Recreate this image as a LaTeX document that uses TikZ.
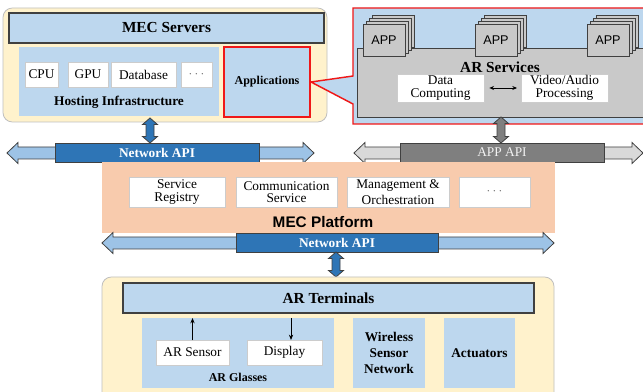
\documentclass[tikz,border=0pt]{standalone}
\usepackage{fontspec}
\setmainfont{Liberation Serif}
\newfontfamily\arialf{Liberation Sans}
\usetikzlibrary{arrows.meta,fit}
\definecolor{lyellow}{HTML}{FFF2CC}
\definecolor{lblue}{HTML}{BDD7EE}
\definecolor{mblue}{HTML}{9DC3E6}
\definecolor{dblue}{HTML}{2E75B6}
\definecolor{peach}{HTML}{F8CBAD}
\definecolor{sgray}{HTML}{C9C9C9}
\definecolor{dgray}{HTML}{7F7F7F}
\definecolor{lgray}{HTML}{D9D9D9}
\definecolor{bord}{HTML}{404040}
\definecolor{redb}{HTML}{F01818}
\newcommand{\hdbl}[4]{\filldraw[#4] ({#1},{#3}) -- ({#1+11},{#3-10.5}) -- ({#1+11},{#3-6}) -- ({#2-11},{#3-6}) -- ({#2-11},{#3-10.5}) -- ({#2},{#3}) -- ({#2-11},{#3+10.5}) -- ({#2-11},{#3+6}) -- ({#1+11},{#3+6}) -- ({#1+11},{#3+10.5}) -- cycle;}
\newcommand{\vdbl}[4]{\filldraw[#4] ({#1},{#2}) -- ({#1+7.5},{#2+6.5}) -- ({#1+4},{#2+6.5}) -- ({#1+4},{#3-6.5}) -- ({#1+7.5},{#3-6.5}) -- ({#1},{#3}) -- ({#1-7.5},{#3-6.5}) -- ({#1-4},{#3-6.5}) -- ({#1-4},{#2+6.5}) -- ({#1-7.5},{#2+6.5}) -- cycle;}
% \areabox{style}{name}{corner1}{corner2}{text style}{text}
\newcommand{\areabox}[6]{%
  \node[area, #1, fit={#3 #4}] (#2) {};
  \node[lbl, #5] (#2-t) at (#2.center) {#6};}
\tikzset{
  area/.style={inner sep=0pt, outer sep=0pt},
  ybox/.style={fill=lyellow, draw=black!25, line width=0.6pt, rounded corners=7pt},
  hdr/.style={fill=lblue, draw=bord, line width=0.8pt},
  hdrt/.style={font=\fontsize{11.5}{12}\selectfont\bfseries},
  bbox/.style={fill=lblue, draw=none},
  wbox/.style={fill=white, draw=black!20, line width=0.5pt},
  wt/.style={font=\fontsize{10}{10}\selectfont},
  redline/.style={draw=redb, line width=1.1pt},
  bar/.style={draw=bord, line width=0.7pt},
  bart/.style={text=white, font=\fontsize{10}{10}\selectfont\bfseries},
  appcard/.style={fill=sgray, draw=bord, line width=0.6pt},
  lbl/.style={inner sep=0pt, align=center},
  thinarr/.style={line width=0.6pt, -{Stealth[length=4pt,width=3.2pt]}},
}
\begin{document}
\begin{tikzpicture}[x=0.75pt,y=-0.75pt]
\useasboundingbox (0,0) rectangle (643,392);
\clip (0,0) rectangle (643,392);
\fill[white] (0,0) rectangle (643,392);

% ---------------- MEC Servers ----------------
\node[area, ybox, fit={(3,8) (327,122)}] (servers) {};
\areabox{hdr}{servhdr}{(9,13)}{(324,43)}{hdrt}{MEC Servers}
\node[area, bbox, fit={(19,47) (219,116)}] (hosting) {};
\node[lbl, font=\fontsize{10}{10}\selectfont\bfseries] (hostlbl) at (119,102) {Hosting Infrastructure};
\areabox{wbox}{cpu}{(25,62)}{(58,87)}{wt}{CPU}
\areabox{wbox}{gpu}{(68,62)}{(108,87)}{wt}{GPU}
\areabox{wbox}{db}{(111,62)}{(176,87)}{wt}{Database}
\areabox{wbox}{hdots}{(181,62)}{(212,87)}{wt, text=black!55}{$\cdots$}

% ---------------- AR Services callout ----------------
\filldraw[fill=lblue, redline] (353,8) -- (660,8) -- (660,124) -- (353,124) -- (353,104) -- (311,82) -- (353,76) -- cycle;
\areabox{bbox, redline}{apps}{(224,47)}{(310,117)}{font=\fontsize{9}{9}\selectfont\bfseries}{Applications}
\node[area, fill=sgray, draw=bord, line width=0.7pt, fit={(357,48) (660,117)}] (arserv) {};
\node[lbl, font=\fontsize{11.5}{12}\selectfont\bfseries] (arservlbl) at (500,67) {AR Services};
\foreach \cx/\nm in {384/appa, 496/appb, 608/appc}{
  \foreach \k in {3,2,1}{
    \filldraw[appcard] ({\cx-21+3*\k},{24-3*\k}) rectangle ({\cx+21+3*\k},{56-3*\k});
  }
  \areabox{appcard}{\nm}{({\cx-21},24)}{({\cx+21},56)}{font=\arialf\fontsize{9.5}{10}\selectfont}{APP}
}
\areabox{wbox}{datac}{(397,74)}{(484,102)}{font=\fontsize{10}{9.5}\selectfont}{Data\\Computing}
\areabox{wbox}{video}{(521,74)}{(608,102)}{font=\fontsize{10}{9.5}\selectfont}{Video/Audio\\Processing}
\draw[line width=0.6pt, {Stealth[length=3.5pt,width=3pt]}-{Stealth[length=3.5pt,width=3pt]}, shorten <=4pt, shorten >=3pt] (datac.east) -- (video.west);

% ---------------- API arrows (top) ----------------
\hdbl{7}{314}{153}{fill=mblue, draw=bord, line width=0.6pt}
\areabox{bar, fill=dblue}{netapi1}{(55,143)}{(259,162)}{bart}{Network API}
\vdbl{150}{118}{143}{fill=dblue, draw=bord, line width=0.6pt}

\hdbl{354}{643}{153}{fill=lgray, draw=bord, line width=0.6pt}
\areabox{bar, fill=dgray}{appapi}{(400,143)}{(604,162)}{text=white!95!black, font=\fontsize{10}{10}\selectfont}{APP API}
\vdbl{501}{117}{143}{fill=dgray, draw=bord, line width=0.6pt}

% ---------------- MEC Platform ----------------
\node[area, fill=peach, fit={(102,162) (555,233)}] (platform) {};
\areabox{wbox}{registry}{(129,177)}{(225,207)}{font=\fontsize{10}{9.5}\selectfont}{Service\\Registry}
\areabox{wbox}{comm}{(236,177)}{(337,207)}{font=\fontsize{10}{9.5}\selectfont}{Communication\\Service}
\areabox{wbox}{mgmt}{(347,177)}{(449,207)}{font=\fontsize{10}{12}\selectfont}{Management \&\\Orchestration}
\areabox{wbox}{pdots}{(459,177)}{(530,207)}{wt, text=black!55}{$\cdots$}
\node[lbl, font=\arialf\fontsize{11.5}{12}\selectfont\bfseries] (platlbl) at (323,222) {MEC Platform};

\hdbl{102}{554}{243}{fill=mblue, draw=bord, line width=0.6pt}
\areabox{bar, fill=dblue}{netapi2}{(236,233)}{(438,252)}{bart}{Network API}
\vdbl{336}{252}{277}{fill=dblue, draw=bord, line width=0.6pt}

% ---------------- AR Terminals ----------------
\node[area, ybox, fit={(102,277) (554,405)}] (terminals) {};
\areabox{hdr}{termhdr}{(123,283)}{(534,313)}{hdrt}{AR Terminals}
\node[area, bbox, fit={(142,318) (334,388)}] (glasses) {};
\node[lbl, font=\fontsize{9}{9}\selectfont\bfseries] (glasslbl) at (238,377) {AR Glasses};
\areabox{wbox}{sensor}{(156,340)}{(229,365)}{wt}{AR Sensor}
\areabox{wbox}{display}{(247,340)}{(322,365)}{wt}{Display}
\draw[thinarr] (sensor.north) -- (sensor.north |- glasses.north);
\draw[thinarr] ([xshift=4.9pt]display.north |- glasses.north) -- ([xshift=4.9pt]display.north);
\areabox{bbox}{wsn}{(353,318)}{(425,388)}{font=\fontsize{10}{12}\selectfont\bfseries}{Wireless\\Sensor\\Network}
\areabox{bbox}{act}{(444,318)}{(515,388)}{font=\fontsize{10}{12}\selectfont\bfseries}{Actuators}
\end{tikzpicture}
\end{document}
